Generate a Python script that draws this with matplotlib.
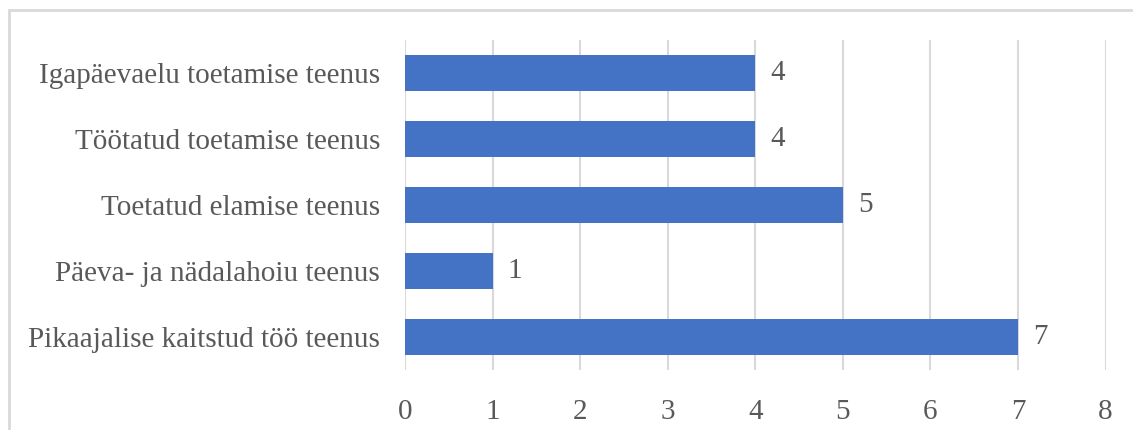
import matplotlib
matplotlib.use("Agg")
from matplotlib import pyplot as plt
from matplotlib.patches import Rectangle

categories = ["Igapäevaelu toetamise teenus",
              "Töötatud toetamise teenus",
              "Toetatud elamise teenus",
              "Päeva- ja nädalahoiu teenus",
              "Pikaajalise kaitstud töö teenus"]
values = [4, 4, 5, 1, 7]
xticks = [0, 1, 2, 3, 4, 5, 6, 7, 8]

text_color = "#595959"
bar_color = "#4472C4"
grid_color = "#D9D9D9"

plt.rcParams["font.family"] = ["Liberation Serif", "DejaVu Serif"]

fig = plt.figure(figsize=(11.33, 4.3), dpi=100)
# light chart-area frame; right and bottom edges fall outside the picture
fig.patches.append(Rectangle((9 / 1133, -0.1), 1.5, 1 - 10 / 430 + 0.1,
                             transform=fig.transFigure, fill=False,
                             edgecolor=grid_color, linewidth=2))

ax = fig.add_axes([405 / 1133, 1 - 370 / 430, 700.5 / 1133, 330 / 430])
ypos = list(range(len(categories)))[::-1]
ax.barh(ypos, values, height=0.56, color=bar_color, zorder=3)
for y, v in zip(ypos, values):
    ax.text(v + 0.17, y, str(v), va="center", ha="left", fontsize=21,
            color=text_color)

ax.set_xlim(0, 8)
ax.set_ylim(-0.5, len(categories) - 0.5)
ax.set_xticks(xticks)
ax.set_xticklabels([str(t) for t in xticks])
ax.set_yticks(ypos)
ax.set_yticklabels(categories)
ax.tick_params(axis="both", length=0, labelsize=21, labelcolor=text_color)
ax.tick_params(axis="x", pad=21)
ax.tick_params(axis="y", pad=18)
ax.grid(axis="x", color=grid_color, linewidth=1.5, zorder=0)
for s in ax.spines.values():
    s.set_visible(False)

plt.savefig("out.png", dpi=100)
